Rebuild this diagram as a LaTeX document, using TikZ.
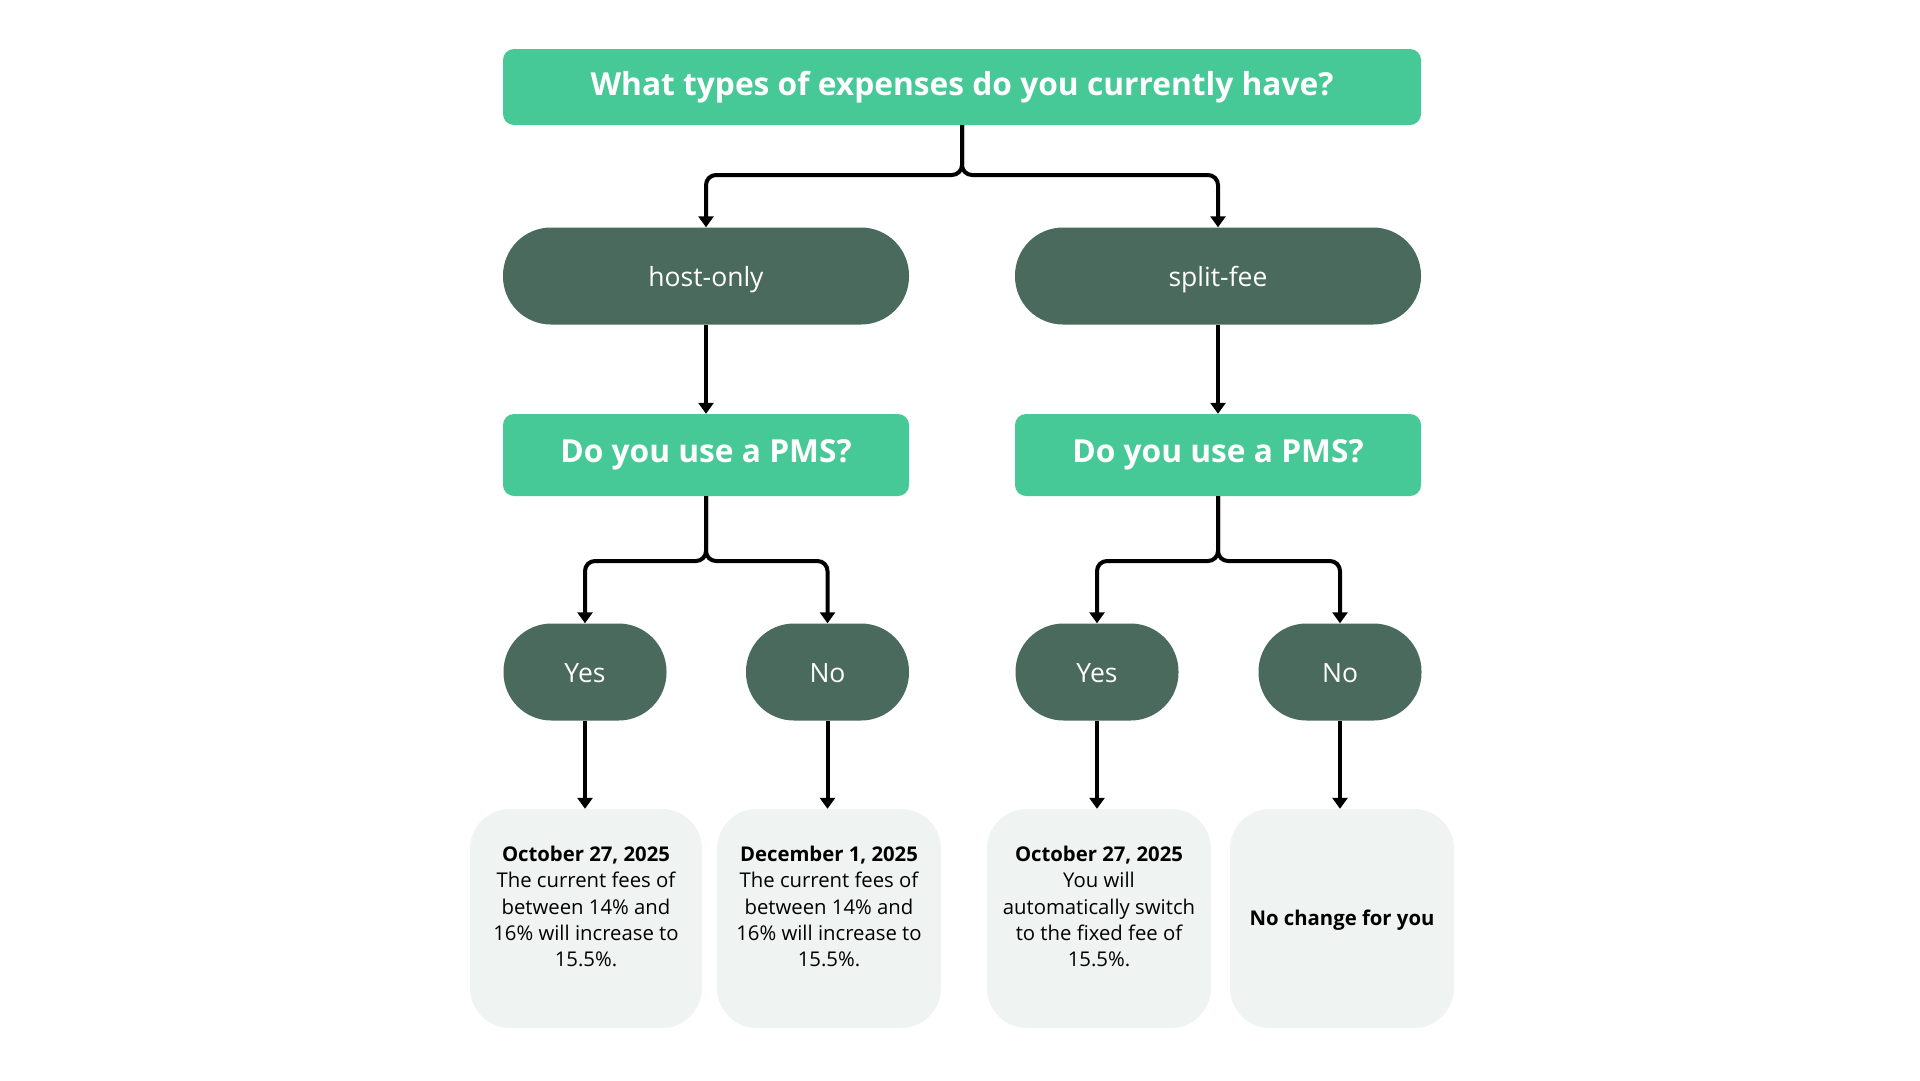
\documentclass[tikz,border=0pt]{standalone}
\usepackage{fontspec}
\setmainfont{Open Sans}
\newfontfamily\headfont{Open Sans}
\usetikzlibrary{arrows.meta}
\definecolor{mint}{HTML}{47C897}
\definecolor{forest}{HTML}{496A5C}
\definecolor{paper}{HTML}{EFF3F2}
\tikzset{
  qbox/.style={fill=mint, rounded corners=11pt, inner sep=0pt, text=white,
    font=\headfont\bfseries\fontsize{31.7}{38}\selectfont},
  pill/.style={fill=forest, rounded corners=48pt, inner sep=0pt, text=white,
    minimum height=97pt, text height=24pt, text depth=2.5pt,
    font=\fontsize{26.5}{32}\selectfont},
  card/.style={fill=paper, rounded corners=40pt, inner sep=0pt,
    minimum height=219pt},
  cardtext/.style={align=center, inner sep=0pt, font=\fontsize{20.3}{26.3}\selectfont},
  conn/.style={line width=4pt, rounded corners=10pt,
    -{Triangle[width=15pt,length=11pt]}}
}
\begin{document}
\begin{tikzpicture}[x=1pt,y=-1pt]
\useasboundingbox[fill=white] (0,0) rectangle (1920,1080);
% question
\node[qbox, minimum width=918pt, minimum height=76pt] (q) at (962,87) {What types of expenses do you currently have?};
% expense type
\node[pill, minimum width=406pt] (ho) at (706,276) {host-only};
\node[pill, minimum width=406pt] (sf) at (1218,276) {split-fee};
% PMS questions
\node[qbox, minimum width=406pt, minimum height=82pt] (pl) at (706,455) {Do you use a PMS?};
\node[qbox, minimum width=406pt, minimum height=82pt] (pr) at (1218,455) {Do you use a PMS?};
% answers
\node[pill, minimum width=163pt] (yl) at (585,672) {Yes};
\node[pill, minimum width=163pt] (nl) at (827.5,672) {No};
\node[pill, minimum width=163pt] (yr) at (1097,672) {Yes};
\node[pill, minimum width=163pt] (nr) at (1340,672) {No};
% result cards
\node[card, minimum width=232pt] (b1) at (586,918.5) {};
\node[card, minimum width=224pt] (b2) at (829,918.5) {};
\node[card, minimum width=224pt] (b3) at (1099,918.5) {};
\node[card, minimum width=224pt] (b4) at (1342,918.5) {};
\node[cardtext] (t1) at ([yshift=12pt]b1.center) {\textbf{October 27, 2025}\\The current fees of\\between 14\% and\\16\% will increase to\\15.5\%.};
\node[cardtext] (t2) at ([yshift=12pt]b2.center) {\textbf{December 1, 2025}\\The current fees of\\between 14\% and\\16\% will increase to\\15.5\%.};
\node[cardtext] (t3) at ([yshift=12pt]b3.center) {\textbf{October 27, 2025}\\You will\\automatically switch\\to the fixed fee of\\15.5\%.};
\node[cardtext] (t4) at ([yshift=-2pt]b4.center) {\textbf{No change for you}};
% connectors
\draw[conn] (q.south) -- (q.south |- 0,175) -| (ho.north);
\draw[conn] (q.south) -- (q.south |- 0,175) -| (sf.north);
\draw[conn] (ho.south) -- (pl.north);
\draw[conn] (sf.south) -- (pr.north);
\draw[conn] (pl.south) -- (pl.south |- 0,561) -| (yl.north);
\draw[conn] (pl.south) -- (pl.south |- 0,561) -| (nl.north);
\draw[conn] (pr.south) -- (pr.south |- 0,561) -| (yr.north);
\draw[conn] (pr.south) -- (pr.south |- 0,561) -| (nr.north);
\draw[conn] (yl.south) -- (yl.south |- b1.north);
\draw[conn] (nl.south) -- (nl.south |- b2.north);
\draw[conn] (yr.south) -- (yr.south |- b3.north);
\draw[conn] (nr.south) -- (nr.south |- b4.north);
\end{tikzpicture}
\end{document}
